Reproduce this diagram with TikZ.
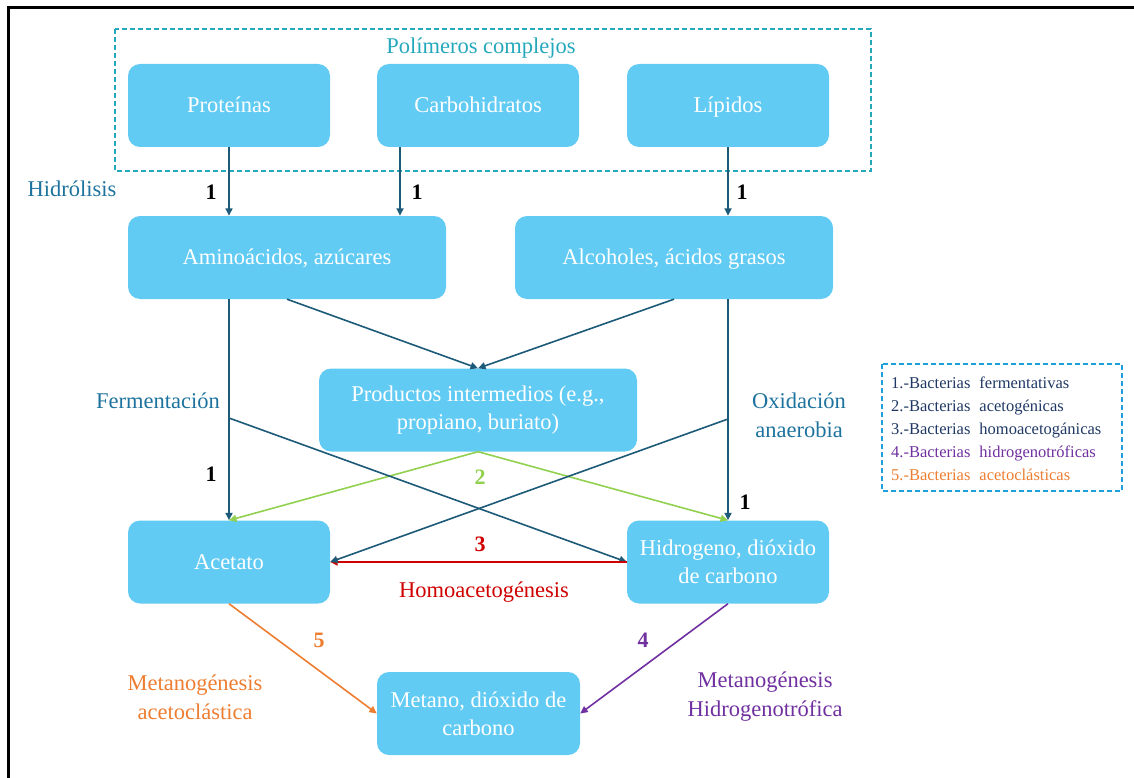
\documentclass[tikz,border=0pt]{standalone}
\usepackage{fontspec}
\setmainfont{Liberation Serif}
\usetikzlibrary{arrows.meta}

\definecolor{boxblue}{RGB}{98,203,243}
\definecolor{flow}{RGB}{28,90,120}
\definecolor{stage}{RGB}{30,115,158}
\definecolor{polyteal}{RGB}{38,168,188}
\definecolor{legblue}{RGB}{30,160,220}
\definecolor{navy}{RGB}{31,56,100}
\definecolor{acgreen}{RGB}{146,208,80}
\definecolor{hredd}{RGB}{208,0,0}
\definecolor{metorange}{RGB}{237,125,49}
\definecolor{metpurple}{RGB}{112,48,160}

\newcommand{\eqh}{\vphantom{Ípg}}

\begin{document}
\begin{tikzpicture}[x=1pt,y=-1pt,
  box/.style={fill=boxblue, rounded corners=12pt, text=white, align=center,
    inner sep=0pt, minimum height=83pt, font=\fontsize{22.5}{28}\selectfont},
  arr/.style={-{Triangle[width=7pt,length=7.5pt]}, line width=1.6pt},
  num/.style={font=\fontsize{22}{24}\selectfont\bfseries, inner sep=0pt},
  lbl/.style={font=\fontsize{22.5}{29}\selectfont, align=center, inner sep=0pt},
  legtxt/.style={font=\fontsize{16.5}{20}\selectfont, anchor=base west, inner sep=0pt},
  dashbox/.style={line width=1.5pt, dash pattern=on 5pt off 3pt}]
\useasboundingbox (0,0) rectangle (1134,778);

% frame
\draw[line width=3pt] (8,778) -- (8,8) -- (1134,8);

% polymer group
\draw[dashbox, polyteal] (115,29) rectangle (871,171);
\node[lbl, text=polyteal] (poltitle) at (481,48) {Polímeros complejos};

% boxes
\node[box, minimum width=202pt] (prot) at (229,105.5) {\eqh Proteínas};
\node[box, minimum width=202pt] (carb) at (478,105.5) {\eqh Carbohidratos};
\node[box, minimum width=202pt] (lip) at (728,105.5) {\eqh Lípidos};
\node[box, minimum width=318pt] (amino) at (287,257.5) {\eqh Aminoácidos, azúcares};
\node[box, minimum width=318pt] (alco) at (674,257.5) {\eqh Alcoholes, ácidos grasos};
\node[box, minimum width=318pt] (prod) at (478,410) {Productos intermedios (e.g.,\\propiano, buriato)};
\node[box, minimum width=202pt] (acet) at (229,562) {\eqh Acetato};
\node[box, minimum width=202pt] (hidro) at (728,562) {Hidrogeno, dióxido\\de carbono};
\node[box, minimum width=203pt] (meta) at (478.5,713.5) {Metano, dióxido de\\carbono};

% attachment points
\coordinate (cb) at (400,147);
\coordinate (ferm) at (229,418);
\coordinate (oxid) at (728,419);

% green: acetogenic
\draw[arr, acgreen] (prod.south) -- (acet.north);
\draw[arr, acgreen] (prod.south) -- (hidro.north);
% methanogenesis
\draw[arr, metorange] (acet.south) -- (meta.west);
\draw[arr, metpurple] (hidro.south) -- (meta.east);

% hydrolysis and fermentation flows
\draw[arr, flow] (prot.south) -- (prot.south |- amino.north);
\draw[arr, flow] (carb.south -| cb) -- (amino.north -| cb);
\draw[arr, flow] (lip.south) -- (lip.south |- alco.north);
\draw[arr, flow] (amino.south) -- (prod.north);
\draw[arr, flow] (alco.south) -- (prod.north);
\draw[arr, flow] (amino.south -| acet.north) -- (acet.north);
\draw[arr, flow] (alco.south -| hidro.north) -- (hidro.north);
\draw[arr, flow] (ferm) -- (hidro.west);

% red: homoacetogenesis
\draw[arr, hredd, line width=2pt] (hidro.west) -- (acet.east);
\draw[arr, flow] (oxid) -- (acet.east);

% stage labels
\node[lbl, text=stage] (hidrol) at (72,189) {Hidrólisis};
\node[lbl, text=stage] (fermlbl) at (158,401) {Fermentación};
\node[lbl, text=stage] (oxidlbl) at (799,415) {Oxidación\\anaerobia};
\node[lbl, text=hredd] (homo) at (484,592) {Homoacetogénesis};
\node[lbl, text=metorange] (metac) at (195,697) {Metanogénesis\\acetoclástica};
\node[lbl, text=metpurple] (methid) at (765,697) {Metanogénesis\\Hidrogenotrófica};

% bacteria numbers
\node[num] (n1a) at (211,192) {1};
\node[num] (n1b) at (417,192) {1};
\node[num] (n1c) at (742,192) {1};
\node[num] (n1d) at (211,474) {1};
\node[num] (n1e) at (745,502) {1};
\node[num, text=acgreen] (n2) at (480,477) {2};
\node[num, text=hredd] (n3) at (480,544) {3};
\node[num, text=metorange] (n5) at (319,640) {5};
\node[num, text=metpurple] (n4) at (643,640) {4};

% legend
\draw[dashbox, legblue] (882,364) rectangle (1122,491);
\node[legtxt, text=navy] (leg1) at (891,388) {1.-Bacterias\hspace{9pt}fermentativas};
\node[legtxt, text=navy] (leg2) at (891,411) {2.-Bacterias\hspace{9pt}acetogénicas};
\node[legtxt, text=navy] (leg3) at (891,434) {3.-Bacterias\hspace{9pt}homoacetogánicas};
\node[legtxt, text=metpurple] (leg4) at (891,457) {4.-Bacterias\hspace{9pt}hidrogenotróficas};
\node[legtxt, text=metorange] (leg5) at (891,480) {5.-Bacterias\hspace{9pt}acetoclásticas};
\end{tikzpicture}
\end{document}
